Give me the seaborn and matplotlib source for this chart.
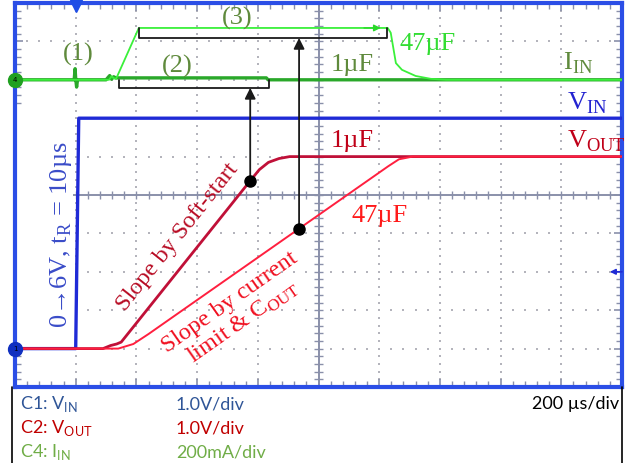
import numpy as np
import matplotlib
matplotlib.use("Agg")
import matplotlib.pyplot as plt
import seaborn as sns
from matplotlib.lines import Line2D
from matplotlib.patches import Rectangle

# --- scope data (time in us, volts / mA) ---
vin_t = [0, 200, 210, 2000]
vin_v = [0.0, 0.0, 6.0, 6.0]

vout1_t = [0, 290, 315, 335, 350, 775, 805, 835, 870, 905, 2000]      # C_OUT = 1uF
vout1_v = [0.0, 0.0, 0.08, 0.12, 0.17, 4.37, 4.66, 4.85, 4.95, 5.0, 5.0]

vout47_t = [0, 340, 390, 440, 1230, 1265, 1310, 2000]            # C_OUT = 47uF
vout47_v = [0.0, 0.0, 0.12, 0.38, 4.75, 4.93, 5.0, 5.0]

iin1_t = [0, 195, 198, 200, 203, 206, 300, 312, 318, 325, 332, 828, 834, 2000]
iin1_ma = [0, 0, 58, 5, -38, 0, 0, 22, 3, 16, 10, 10, 0, 0]

iin47_t = [0, 310, 318, 326, 333, 408, 1228, 1238, 1255, 1275, 1320, 1370, 1420, 2000]
iin47_ma = [0, 0, 18, 8, 5, 270, 270, 245, 87, 52, 20, 5, 0, 0]

# channel settings (V/div, mA/div, ground position in div)
v_per_div = 1.0
ma_per_div = 200.0
v_offset = 1.0
i_offset = 8.0

sns.set_style("white")
serif = ["Liberation Serif", "DejaVu Serif"]
plt.rcParams["font.family"] = serif

fig = plt.figure(figsize=(6.26, 4.63), dpi=100)
ax = fig.add_axes([15 / 626, 76 / 463, 607 / 626, 384 / 463])
ax.set_xlim(0, 2000)
ax.set_ylim(0, 10)

# dotted graticule
grid_c = "#b4b4bc"
for i in range(1, 10):
    if i == 5:
        continue
    ax.scatter(np.full(51, i * 200), np.arange(0, 10.01, 0.2), s=0.7, marker="s",
               color=grid_c, linewidths=0, zorder=0.5)
    ax.scatter(np.arange(0, 2001, 40), np.full(51, i), s=0.7, marker="s",
               color=grid_c, linewidths=0, zorder=0.5)

# centre cross with ticks
axis_c = "#8a90aa"
ax.axvline(1000, color=axis_c, lw=1.4, zorder=0.6)
ax.axhline(5, color=axis_c, lw=1.4, zorder=0.6)
ax.vlines(np.arange(0, 2001, 40), 4.9, 5.1, color=axis_c, lw=1, zorder=0.6)
ax.hlines(np.arange(0, 10.01, 0.2), 985, 1015, color=axis_c, lw=1, zorder=0.6)

# white box behind the rotated VIN label
ax.add_patch(Rectangle((0, 1.06), 192, 6.2, facecolor="white", edgecolor="none", zorder=1))

# border ticks
ax.set_xticks(np.arange(0, 2001, 200))
ax.set_xticks(np.arange(0, 2001, 40), minor=True)
ax.set_yticks(np.arange(0, 10.01, 1))
ax.set_yticks(np.arange(0, 10.01, 0.2), minor=True)
ax.tick_params(which="both", direction="in", top=True, right=True, bottom=True, left=True,
               labelbottom=False, labelleft=False, color=axis_c)
ax.tick_params(which="major", length=6, width=1.2)
ax.tick_params(which="minor", length=4, width=1)
for sp in ax.spines.values():
    sp.set_color("#2b4ee6")
    sp.set_linewidth(3)

# traces
def to_div(vals, scale, offset):
    return np.asarray(vals, dtype=float) / scale + offset

sns.lineplot(x=vin_t, y=to_div(vin_v, v_per_div, v_offset), ax=ax, color="#1f2ad6", lw=2.4, zorder=3)
sns.lineplot(x=vout1_t, y=to_div(vout1_v, v_per_div, v_offset), ax=ax, color="#c01038", lw=2.0, zorder=3)
sns.lineplot(x=vout47_t, y=to_div(vout47_v, v_per_div, v_offset), ax=ax, color="#ff1f3f", lw=1.4, zorder=3.1)
sns.lineplot(x=iin1_t, y=to_div(iin1_ma, ma_per_div, i_offset), ax=ax, color="#2aa82a", lw=2.4, zorder=3)
sns.lineplot(x=iin47_t, y=to_div(iin47_ma, ma_per_div, i_offset), ax=ax, color="#3af03a", lw=1.3, zorder=3.1)

# brackets, dots and arrows
k = "#1a1a1a"
b2 = (343, 837, 7.79, 8.0)
b3 = (408, 1225, 9.09, 9.35)
for x0, x1, yb, ye in (b2, b3):
    ax.plot([x0, x0, x1, x1], [ye, yb, yb, ye], color=k, lw=1.3, zorder=4)

dot1_t, dot2_t = 775, 936
dot1_y = np.interp(dot1_t, vout1_t, to_div(vout1_v, v_per_div, v_offset))
dot2_y = np.interp(dot2_t, vout47_t, to_div(vout47_v, v_per_div, v_offset))
for dt, dy, top in ((dot1_t, dot1_y, b2[2]), (dot2_t, dot2_y, b3[2])):
    ax.annotate("", xy=(dt, top), xytext=(dt, dy),
                arrowprops=dict(arrowstyle="-|>", color=k, lw=1.3, mutation_scale=16,
                                shrinkA=0, shrinkB=0), zorder=4)
    ax.plot(dt, dy, "o", color="black", ms=8, zorder=5)

ax.annotate("", xy=(1205, 9.35), xytext=(1150, 9.35),
            arrowprops=dict(arrowstyle="-|>", color="#2ad82a", lw=1, mutation_scale=10,
                            shrinkA=0, shrinkB=0), zorder=4)

# labels
olive = "#5f8a3c"
fs = 19
ax.text(208, 8.65, "(1)", color=olive, fontsize=fs, ha="center", va="center", zorder=6)
ax.text(534, 8.36, "(2)", color=olive, fontsize=fs, ha="center", va="center", zorder=6)
ax.text(731, 9.61, "(3)", color=olive, fontsize=fs, ha="center", va="center", zorder=6)
ax.text(1358, 8.93, "47µF", color="#33dd33", fontsize=fs, ha="center", va="center", zorder=6)
ax.text(1110, 8.39, "1µF", color=olive, fontsize=fs, ha="center", va="center", zorder=6)
ax.text(1806, 8.44, r"I$_\mathregular{IN}$", color=olive, fontsize=fs, ha="left", va="center", zorder=6)
ax.text(1819, 7.40, r"V$_\mathregular{IN}$", color="#2323d0", fontsize=fs, ha="left", va="center", zorder=6)
ax.text(1110, 6.41, "1µF", color="#c00018", fontsize=fs, ha="center", va="center", zorder=6)
ax.text(1819, 6.41, r"V$_\mathregular{OUT}$", color="#c00018", fontsize=fs, ha="left", va="center", zorder=6)
ax.text(1203, 4.45, "47µF", color="#ff1a1a", fontsize=fs, ha="center", va="center", zorder=6)

ax.text(152, 3.96, r"0→6V, t$_\mathregular{R}$ = 10µs", color="#3a4cc8", fontsize=19,
        rotation=90, ha="center", va="center", rotation_mode="anchor", zorder=6)
ax.text(537, 3.91, "Slope by Soft-start", color="#b80c24", fontsize=17.5,
        rotation=51.5, ha="center", va="center", rotation_mode="anchor", zorder=6)
ax.text(730, 1.94, "Slope by current\n" + r"limit & C$_\mathregular{OUT}$", color="#f01020",
        fontsize=17.5, rotation=35, ha="center", va="center", rotation_mode="anchor",
        multialignment="center", linespacing=1.05, zorder=6)

# scope markers
ax.plot(0, 0.99, "o", ms=10, color="#1030c0", clip_on=False, zorder=7)
ax.text(0, 0.99, "1", fontsize=5, ha="center", va="center", color="black", family="DejaVu Sans", zorder=8)
ax.plot(0, 8.0, "o", ms=10, color="#20a020", clip_on=False, zorder=7)
ax.text(0, 8.0, "4", fontsize=5, ha="center", va="center", color="black", family="DejaVu Sans", zorder=8)
ax.plot(200, 9.93, "v", ms=8, color="#1f4ee6", clip_on=False, zorder=7)
ax.annotate("", xy=(1960, 3.0), xytext=(2000, 3.0),
            arrowprops=dict(arrowstyle="-|>", color="#1f2ad6", lw=1.2, mutation_scale=8,
                            shrinkA=0, shrinkB=0), zorder=7)

# settings panel below the screen
sans = ["Lato", "DejaVu Sans"]
rows = [(r"C1: V$_\mathregular{IN}$", "1.0V/div", "#2f5597", 404),
        (r"C2: V$_\mathregular{OUT}$", "1.0V/div", "#c00000", 428),
        (r"C4: I$_\mathregular{IN}$", "200mA/div", "#70ad47", 452)]
for name, scale, col, ypx in rows:
    fig.text(20 / 626, 1 - ypx / 463, name, color=col, fontsize=13, family=sans, va="center")
    fig.text(176 / 626, 1 - ypx / 463, scale, color=col, fontsize=13, family=sans, va="center")
fig.text(619 / 626, 1 - 404 / 463, "200 µs/div", color="black", fontsize=13, family=sans,
         va="center", ha="right")
fig.add_artist(Line2D([12 / 626, 12 / 626], [0, 76 / 463], color="black", lw=1.2))
fig.add_artist(Line2D([622 / 626, 622 / 626], [0, 76 / 463], color="black", lw=1.2))

fig.savefig("out.png", dpi=100)
